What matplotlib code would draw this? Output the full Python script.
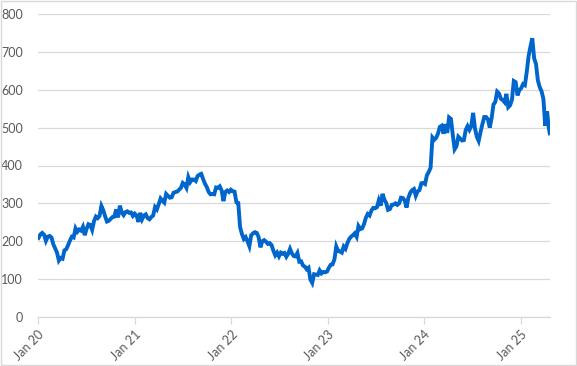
import matplotlib
matplotlib.use("Agg")
import matplotlib.pyplot as plt
import pandas as pd

# Weekly closing values
v2020 = [209, 218, 222, 217, 201, 212, 214, 210, 192, 181, 170, 149, 156, 154, 176, 179,
         190, 202, 212, 210, 234, 225, 231, 228, 238, 216, 233, 245, 243, 230, 253, 265,
         261, 267, 293, 282, 266, 252, 254, 259, 264, 265, 284, 263, 294, 276, 269, 277,
         279, 275, 276, 267]
v2021 = [273, 268, 251, 275, 258, 268, 271, 261, 258, 264, 268, 290, 284, 298, 313, 307,
         302, 325, 320, 315, 316, 328, 330, 331, 336, 341, 354, 350, 341, 369, 356, 363,
         363, 359, 372, 376, 378, 364, 352, 343, 330, 324, 325, 324, 342, 341, 345, 334,
         306, 330, 334, 330, 336]
v2022 = [332, 331, 303, 301, 237, 219, 206, 211, 200, 187, 216, 221, 224, 222, 211, 184,
         200, 203, 199, 193, 195, 190, 175, 163, 170, 160, 170, 167, 169, 159, 167, 180,
         168, 161, 160, 169, 146, 147, 136, 133, 126, 130, 99, 90, 113, 112, 111, 123,
         115, 119, 118, 120]
v2023 = [130, 138, 139, 152, 186, 174, 173, 170, 186, 180, 195, 206, 212, 216, 221, 212,
         240, 232, 234, 245, 262, 272, 268, 281, 288, 287, 290, 308, 294, 325, 310, 301,
         283, 285, 296, 297, 300, 296, 300, 315, 314, 308, 289, 315, 328, 335, 338, 320,
         332, 335, 353, 354]
v2024 = [351, 374, 383, 394, 474, 468, 473, 484, 502, 505, 484, 509, 486, 527, 523, 481,
         443, 451, 476, 471, 466, 467, 494, 504, 494, 504, 539, 498, 476, 465, 488, 509,
         528, 528, 522, 500, 525, 561, 568, 595, 590, 576, 573, 567, 589, 554, 559, 574,
         623, 620, 585, 599]
v2025 = [604, 615, 612, 647, 689, 714, 736, 683, 668, 625, 607, 596, 576, 505, 543, 501, 485]
d2025 = ["2025-01-03", "2025-01-10", "2025-01-17", "2025-01-24", "2025-01-31", "2025-02-07",
         "2025-02-14", "2025-02-21", "2025-02-28", "2025-03-07", "2025-03-14", "2025-03-21",
         "2025-03-28", "2025-04-04", "2025-04-11", "2025-04-17", "2025-04-21"]

starts = {"2020-01-03": v2020, "2021-01-01": v2021, "2022-01-07": v2022,
          "2023-01-06": v2023, "2024-01-05": v2024}
dates = []
values = []
for s, v in starts.items():
    dates.extend(pd.date_range(s, periods=len(v), freq="7D"))
    values.extend(v)
dates.extend(pd.to_datetime(d2025))
values.extend(v2025)

y_ticks = [0, 100, 200, 300, 400, 500, 600, 700, 800]
x_ticks = ["2020-01-01", "2021-01-01", "2022-01-01", "2023-01-01", "2024-01-01", "2025-01-01"]
x_labels = ["Jan 20", "Jan 21", "Jan 22", "Jan 23", "Jan 24", "Jan 25"]

plt.rcParams["font.family"] = ["Lato", "DejaVu Sans"]

fig = plt.figure(figsize=(5.77, 3.66), dpi=100)
ax = fig.add_axes([38 / 577, 1 - 317 / 366, (550 - 38) / 577, (317 - 14) / 366])

ax.plot(dates, values, color="#0066CC", linewidth=2.8, solid_joinstyle="miter")

ax.set_ylim(0, 800)
ax.set_yticks(y_ticks)
ax.set_xlim(pd.Timestamp("2020-01-01"), pd.Timestamp("2025-04-22"))
ax.set_xticks(pd.to_datetime(x_ticks))
ax.set_xticklabels(x_labels, rotation=45, ha="right", va="top", rotation_mode="anchor")

ax.grid(axis="y", color="#D9D9D9", linewidth=0.9)
ax.set_axisbelow(True)
for s in ["top", "right", "left"]:
    ax.spines[s].set_visible(False)
ax.spines["bottom"].set_color("#D9D9D9")
ax.spines["bottom"].set_linewidth(0.9)
ax.tick_params(axis="y", length=0, pad=11, labelsize=9, labelcolor="#595959")
ax.tick_params(axis="x", length=5, width=0.9, color="#D9D9D9", pad=3,
               labelsize=9, labelcolor="#595959")

# chart border
fig.patches.append(plt.Rectangle((0.001, 0.002), 0.997, 0.995, transform=fig.transFigure,
                                 fill=False, edgecolor="#D9D9D9", linewidth=1.0))

fig.savefig("out.png", dpi=100)
